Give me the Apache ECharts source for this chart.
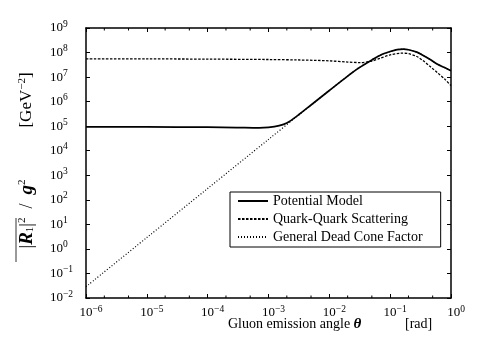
<!DOCTYPE html>
<html>
<head>
<meta charset="utf-8">
<script src="https://cdn.jsdelivr.net/npm/echarts@6/dist/echarts.min.js"></script>
<style>
  html, body { margin: 0; padding: 0; background: #fff; }
  #chart { width: 477px; height: 354px; }
</style>
</head>
<body>
<div id="chart"></div>
<script>
  // angles (rad) and |R1|^2/g^2 values
  const thetaPM = [1e-6, 1e-5, 1e-4, 3e-4, 7e-4, 1e-3, 1.5e-3, 2e-3, 3e-3, 5e-3, 1e-2, 2e-2, 3e-2, 5e-2, 7e-2, 0.1, 0.13, 0.164, 0.2, 0.275, 0.35, 0.455, 0.6, 0.8, 1]
  const potentialModel = [9.4e4, 9.3e4, 9.1e4, 8.8e4, 8.5e4, 8.9e4, 1.05e5, 1.35e5, 2.7e5, 7.3e5, 2.85e6, 1.1e7, 2.3e7, 5e7, 8e7, 1.1e8, 1.32e8, 1.38e8, 1.3e8, 1.04e8, 7.6e7, 5.2e7, 3.3e7, 2.4e7, 1.8e7]

  const thetaQQ = [1e-6, 1e-5, 1e-4, 1e-3, 3e-3, 1e-2, 2e-2, 3.2e-2, 5e-2, 7e-2, 0.1, 0.15, 0.2, 0.275, 0.35, 0.455, 0.6, 0.8, 1]
  const quarkQuark = [5.5e7, 5.5e7, 5.4e7, 5.2e7, 5e7, 4.6e7, 4.1e7, 3.9e7, 4.5e7, 6e7, 8e7, 9.4e7, 9e7, 6.9e7, 4.6e7, 2.7e7, 1.5e7, 8e6, 4.5e6]

  const thetaDC = [1e-6, 1e-5, 1e-4, 1e-3, 3e-3, 5e-3, 1e-2, 2e-2, 3e-2, 5e-2, 7e-2, 0.1, 0.13, 0.164, 0.2, 0.275, 0.35, 0.455, 0.6, 0.8, 1]
  const deadCone = [0.029, 2.9, 290, 2.9e4, 2.6e5, 7.2e5, 2.85e6, 1.1e7, 2.3e7, 5e7, 8e7, 1.1e8, 1.32e8, 1.38e8, 1.3e8, 1.04e8, 7.6e7, 5.2e7, 3.3e7, 2.4e7, 1.8e7]

  // tick positions
  const xTicks = [1e-6, 1e-5, 1e-4, 1e-3, 1e-2, 1e-1, 1]
  const yTicks = [1e-2, 1e-1, 1, 1e1, 1e2, 1e3, 1e4, 1e5, 1e6, 1e7, 1e8, 1e9]
  // minor ticks at 2 and 5 of each decade on the x axis
  const minorX = [2e-6, 5e-6, 2e-5, 5e-5, 2e-4, 5e-4, 2e-3, 5e-3, 2e-2, 5e-2, 0.2, 0.5]

  const legendNames = ['Potential Model', 'Quark-Quark Scattering', 'General Dead Cone Factor']
  const yMin = 1e-2
  const yMax = 1e9
  const serif = 'Liberation Serif'

  const zip = (xs, ys) => xs.map((x, i) => [x, ys[i]])

  const powLabel = v => {
    const e = Math.round(Math.log10(v))
    return '{b|10}{s|' + (e < 0 ? '\u2212' + (-e) : e) + '}'
  }
  const labelRich = {
    b: { fontFamily: serif, fontSize: 13, color: '#000' },
    s: { fontFamily: serif, fontSize: 9.5, color: '#000', padding: [0, 0, 8, 0] }
  }
  const axisLine = { show: true, onZero: false, lineStyle: { color: '#000', width: 1.5 } }
  const tickX = { show: true, inside: true, length: 4, customValues: xTicks, lineStyle: { color: '#000', width: 1 } }
  const tickY = { show: true, inside: true, length: 4, customValues: yTicks, lineStyle: { color: '#000', width: 1 } }

  const chart = echarts.init(document.getElementById('chart'))
  const option = {
    animation: false,
    grid: { left: 86, right: 26, top: 28, bottom: 56 },
    legend: {
      data: legendNames,
      orient: 'vertical',
      left: 230,
      top: 192,
      itemWidth: 30,
      itemHeight: 12,
      itemGap: 4,
      padding: [2, 18, 3, 7],
      borderColor: '#000',
      borderWidth: 1,
      borderRadius: 0,
      itemStyle: { opacity: 0 },
      textStyle: { fontFamily: serif, fontSize: 14, color: '#000' }
    },
    xAxis: [
      {
        type: 'log', logBase: 10, min: 1e-6, max: 1,
        axisLine: axisLine, axisTick: tickX, splitLine: { show: false },
        axisLabel: { customValues: xTicks, formatter: powLabel, rich: labelRich, margin: 6, padding: [0, 0, 0, 10] }
      },
      {
        type: 'log', logBase: 10, min: 1e-6, max: 1, position: 'top',
        axisLine: axisLine, axisTick: tickX, splitLine: { show: false }, axisLabel: { show: false }
      }
    ],
    yAxis: [
      {
        type: 'log', logBase: 10, min: yMin, max: yMax,
        axisLine: axisLine, axisTick: tickY, splitLine: { show: false },
        axisLabel: { customValues: yTicks, formatter: powLabel, rich: labelRich, align: 'left', margin: 36 }
      },
      {
        type: 'log', logBase: 10, min: yMin, max: yMax, position: 'right',
        axisLine: axisLine, axisTick: tickY, splitLine: { show: false }, axisLabel: { show: false }
      }
    ],
    series: [
      {
        name: 'General Dead Cone Factor', type: 'line', data: zip(thetaDC, deadCone),
        symbol: 'none', smooth: 0.3, z: 2, color: '#000',
        lineStyle: { color: '#000', width: 1.2, type: [1, 2] }
      },
      {
        name: 'Quark-Quark Scattering', type: 'line', data: zip(thetaQQ, quarkQuark),
        symbol: 'none', smooth: 0.3, z: 3, color: '#000',
        lineStyle: { color: '#000', width: 1.3, type: [2.5, 1.5] }
      },
      {
        name: 'Potential Model', type: 'line', data: zip(thetaPM, potentialModel),
        symbol: 'none', smooth: 0.3, z: 4, color: '#000',
        lineStyle: { color: '#000', width: 1.7 }
      },
      {
        type: 'custom', data: minorX.map(v => [v, 1]), silent: true, z: 5,
        renderItem: (params, api) => {
          const b = api.coord([api.value(0), yMin])
          const t = api.coord([api.value(0), yMax])
          const st = { stroke: '#000', lineWidth: 1 }
          return {
            type: 'group',
            children: [
              { type: 'line', shape: { x1: b[0], y1: b[1], x2: b[0], y2: b[1] - 2.5 }, style: st },
              { type: 'line', shape: { x1: t[0], y1: t[1], x2: t[0], y2: t[1] + 2.5 }, style: st }
            ]
          }
        }
      }
    ],
    graphic: [
      {
        type: 'text', left: 228, top: 317,
        style: {
          text: 'Gluon emission angle {t|\u03b8}',
          fontFamily: serif, fontSize: 14, fill: '#000',
          rich: { t: { fontFamily: serif, fontSize: 15, fontStyle: 'italic', fontWeight: 'bold', fill: '#000' } }
        }
      },
      {
        type: 'text', left: 405, top: 317,
        style: { text: '[rad]', fontFamily: serif, fontSize: 14, fill: '#000' }
      },
      {
        type: 'text', x: 27, y: 100, rotation: Math.PI / 2,
        style: {
          text: '[GeV{s|\u22122}]', fontFamily: serif, fontSize: 17, fill: '#000',
          align: 'center', verticalAlign: 'middle',
          rich: { s: { fontFamily: serif, fontSize: 11, fill: '#000', padding: [0, 0, 9, 0] } }
        }
      },
      {
        type: 'text', x: 27, y: 214, rotation: Math.PI / 2,
        style: {
          text: '|{i|R}{d|1}|{s|2}  /  {i|g}{s|2}', fontFamily: serif, fontSize: 18, fill: '#000',
          align: 'center', verticalAlign: 'middle',
          rich: {
            i: { fontFamily: serif, fontSize: 19, fontStyle: 'italic', fontWeight: 'bold', fill: '#000' },
            d: { fontFamily: serif, fontSize: 11, fill: '#000', padding: [7, 0, 0, 0] },
            s: { fontFamily: serif, fontSize: 11, fill: '#000', padding: [0, 0, 10, 0] }
          }
        }
      },
      {
        type: 'line', shape: { x1: 16, y1: 218, x2: 16, y2: 262 },
        style: { stroke: '#000', lineWidth: 0.8 }
      }
    ]
  }
  chart.setOption(option)
</script>
</body>
</html>
